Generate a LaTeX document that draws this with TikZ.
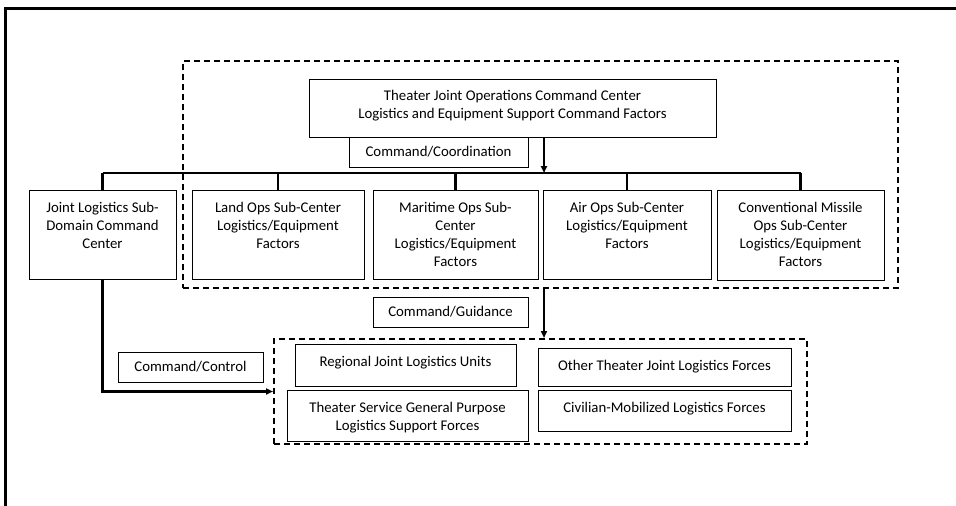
\documentclass[tikz,border=0pt]{standalone}
\usepackage{fontspec}
\setmainfont{Carlito}
\usetikzlibrary{arrows.meta,calc}
\begin{document}
\begin{tikzpicture}[x=1pt,y=-1pt,
  box/.style={draw=black, line width=0.9pt, rectangle, inner sep=0pt},
  txt/.style={align=center, inner sep=0pt, font=\fontsize{14.8}{18}\selectfont},
  grp/.style={draw=black, line width=2pt, dash pattern=on 6pt off 4pt, rectangle, inner sep=0pt},
  conn/.style={draw=black, line width=2.2pt},
  arr/.style={conn, -{Triangle[length=7pt,width=6pt]}}
]
\useasboundingbox (0,0) rectangle (956,506);
\draw[line width=3pt] (5,506) -- (5,8) -- (956,8);

% group frames
\node[grp, minimum width=715pt, minimum height=227pt] (grp1) at (540.5,174.5) {};
\node[grp, minimum width=533pt, minimum height=105pt] (grp2) at (540.5,391.5) {};

% top node
\node[box, minimum width=407pt, minimum height=58pt] (top) at (512.5,108) {};
\node[txt, anchor=north, yshift=-11pt] at (top.north) {Theater Joint Operations Command Center\\Logistics and Equipment Support Command Factors};

\node[box, minimum width=179pt, minimum height=30pt, txt] (coord) at (438.5,152) {Command/Coordination};

% sub-centers
\node[box, minimum width=147pt, minimum height=89pt] (joint) at (102.5,234.5) {};
\node[box, minimum width=172pt, minimum height=89pt] (land) at (278,234.5) {};
\node[box, minimum width=165pt, minimum height=89pt] (mar) at (455.5,234.5) {};
\node[box, minimum width=168pt, minimum height=89pt] (air) at (627,234.5) {};
\node[box, minimum width=167pt, minimum height=90pt] (conv) at (800.5,235) {};
\node[txt, anchor=north, yshift=-12pt] at (joint.north) {Joint Logistics Sub-\\Domain Command\\Center};
\node[txt, anchor=north, yshift=-12pt] at (land.north) {Land Ops Sub-Center\\Logistics/Equipment\\Factors};
\node[txt, anchor=north, yshift=-12pt] at (mar.north) {Maritime Ops Sub-\\Center\\Logistics/Equipment\\Factors};
\node[txt, anchor=north, yshift=-12pt] at (air.north) {Air Ops Sub-Center\\Logistics/Equipment\\Factors};
\node[txt, anchor=north, yshift=-12pt] at (conv.north) {Conventional Missile\\Ops Sub-Center\\Logistics/Equipment\\Factors};

% labels
\node[box, minimum width=155pt, minimum height=30pt, txt] (guid) at (450.5,312) {Command/Guidance};
\node[box, minimum width=145pt, minimum height=30pt, txt] (ctrl) at (190.5,367) {Command/Control};

% bottom units
\node[box, minimum width=221pt, minimum height=42pt] (reg) at (405.5,365) {};
\node[txt, anchor=north, yshift=-12pt] at (reg.north) {Regional Joint Logistics Units};
\node[box, minimum width=241pt, minimum height=51pt] (svc) at (407.5,415.5) {};
\node[txt, anchor=north, yshift=-12pt] at (svc.north) {Theater Service General Purpose\\Logistics Support Forces};
\node[box, minimum width=253pt, minimum height=38pt] (oth) at (664.5,367) {};
\node[txt, anchor=north, yshift=-12pt] at (oth.north) {Other Theater Joint Logistics Forces};
\node[box, minimum width=253pt, minimum height=41pt] (civ) at (664.5,410.5) {};
\node[txt, anchor=north, yshift=-12pt] at (civ.north) {Civilian-Mobilized Logistics Forces};

% connectors
\coordinate (bus) at (544,173);
\draw[arr] (top.south -| bus) -- (bus);
\draw[conn] (joint.north |- bus) -- (conv.north |- bus);
\draw[conn] (joint.north |- bus) -- (joint.north);
\draw[conn] (land.north |- bus) -- (land.north);
\draw[conn] (mar.north |- bus) -- (mar.north);
\draw[conn] (air.north |- bus) -- (air.north);
\draw[conn] (conv.north |- bus) -- (conv.north);
\draw[arr] (grp1.south -| bus) -- (grp2.north -| bus);
\draw[arr] (joint.south) |- (grp2.west);
\end{tikzpicture}
\end{document}
